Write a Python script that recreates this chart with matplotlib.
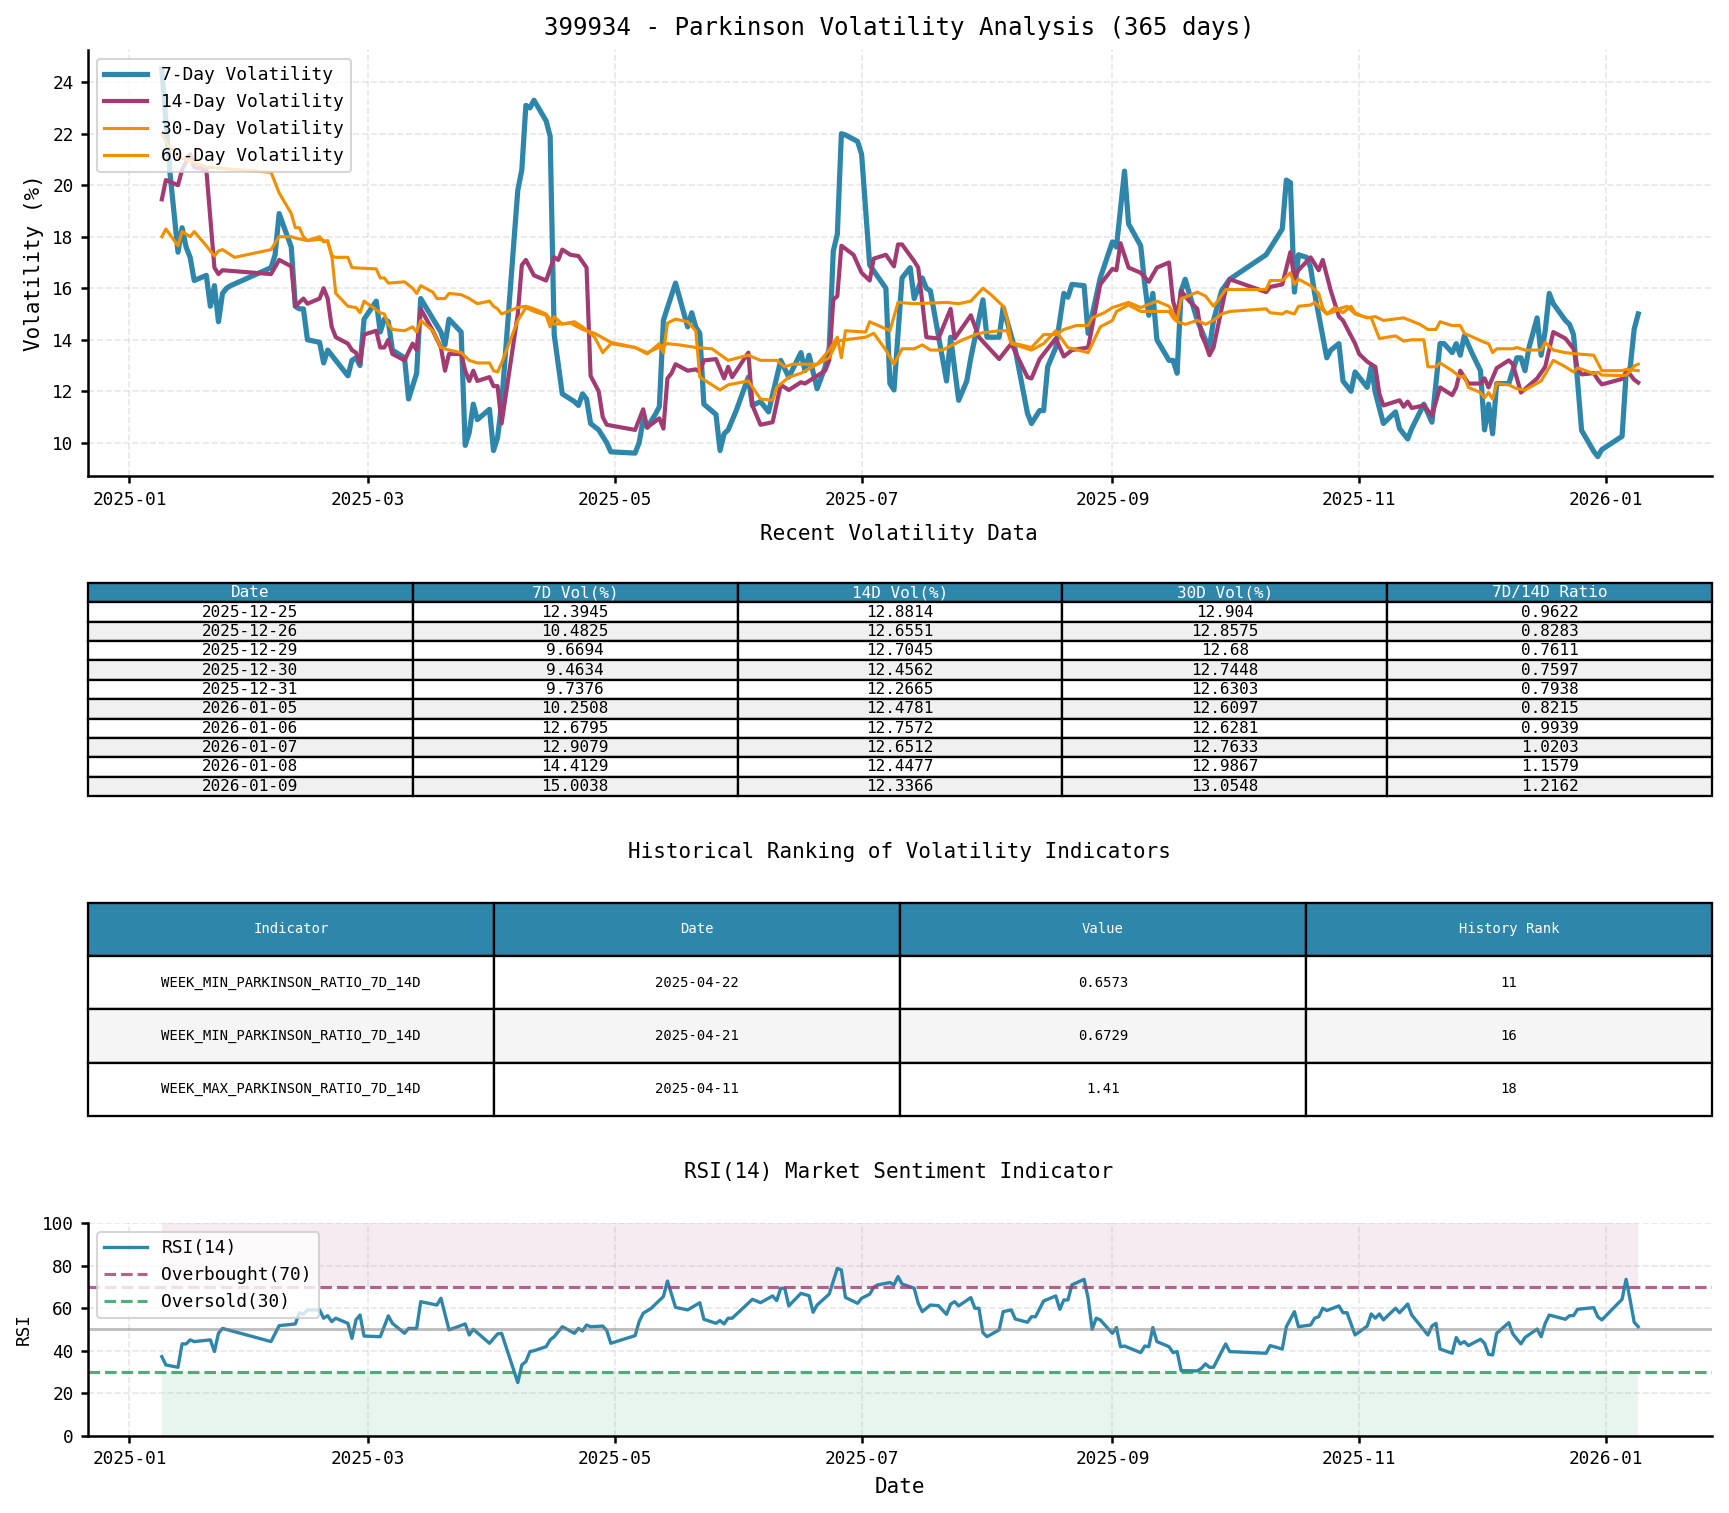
import pandas as pd
import matplotlib
matplotlib.use('Agg')
import matplotlib.pyplot as plt
import matplotlib.dates as mdates
from matplotlib.ticker import MultipleLocator

plt.rcParams['font.family'] = ['DejaVu Sans Mono']
plt.rcParams['axes.unicode_minus'] = False

# --- Datos (dias contados desde 2025-01-01) ---
START = pd.Timestamp('2025-01-01')

vol7_days = [8, 10, 12, 13, 14, 15, 16, 19, 20, 21, 22, 23, 24, 25, 35, 36, 37, 40, 41, 42, 43, 44,
             47, 48, 49, 54, 55, 56, 57, 58, 61, 62, 63, 64, 65, 68, 69, 71, 72, 77, 78, 79, 82, 83,
             84, 85, 86, 89, 90, 91, 92, 96, 97, 98, 99, 100, 103, 104, 105, 107, 110, 111, 112, 113,
             114, 116, 118, 119, 125, 126, 127, 128, 130, 131, 132, 133, 135, 138, 139, 140, 141, 142,
             145, 146, 147, 148, 150, 153, 154, 156, 158, 161, 163, 166, 167, 168, 170, 172, 173, 174,
             175, 176, 177, 180, 181, 183, 187, 188, 189, 191, 193, 194, 196, 197, 198, 202, 203, 205,
             207, 208, 211, 212, 215, 216, 219, 222, 223, 225, 226, 227, 229, 231, 232, 233, 236, 237,
             240, 243, 244, 246, 247, 250, 251, 252, 253, 254, 257, 258, 259, 260, 261, 262, 264, 266,
             267, 268, 270, 272, 281, 285, 286, 287, 288, 289, 291, 292, 293, 296, 297, 299, 300, 302,
             303, 306, 307, 308, 310, 313, 314, 316, 317, 320, 322, 324, 325, 327, 328, 329, 330, 332,
             334, 335, 336, 337, 338, 341, 343, 344, 345, 346, 348, 349, 350, 351, 352, 355, 356, 357,
             358, 359, 362, 363, 364, 369, 370, 371, 372, 373]
vol7_vals = [24.5, 20.5, 17.4, 18.35, 17.6, 17.2, 16.3, 16.5, 15.3, 16.1, 14.7, 15.8, 16.0, 16.1,
             16.8, 17.3, 18.9, 17.6, 15.3, 15.2, 15.2, 14.0, 13.9, 13.1, 13.6, 12.6, 13.2, 13.3, 13.0,
             14.8, 15.5, 14.3, 14.8, 14.7, 13.6, 13.3, 11.7, 12.7, 15.6, 14.3, 13.8, 14.8, 14.3, 9.9,
             10.4, 11.5, 10.9, 11.3, 9.7, 10.2, 11.5, 19.8, 20.6, 23.1, 23.0, 23.3, 22.5, 21.9, 14.2,
             11.9, 11.6, 11.45, 11.9, 11.7, 10.75, 10.5, 10.0, 9.65, 9.6, 10.0, 10.9, 10.6, 11.1, 11.4,
             14.75, 15.25, 16.2, 14.5, 15.05, 14.5, 14.25, 11.5, 11.1, 9.7, 10.35, 10.5, 11.25, 12.55,
             11.45, 11.6, 11.2, 13.2, 12.55, 13.5, 12.8, 13.4, 12.1, 12.95, 13.7, 17.45, 18.1, 22.0,
             21.95, 21.7, 21.2, 16.9, 16.0, 12.3, 12.05, 16.4, 16.8, 15.6, 16.4, 16.0, 15.9, 12.4, 14.1,
             11.65, 12.4, 13.3, 15.55, 14.1, 14.1, 15.25, 13.6, 11.15, 10.75, 11.25, 11.25, 12.95, 13.7,
             15.8, 15.65, 16.15, 16.1, 14.25, 16.4, 17.8, 17.6, 20.55, 18.5, 17.65, 16.15, 14.95, 15.8,
             14.0, 13.2, 13.2, 12.7, 15.9, 16.35, 15.8, 14.75, 14.0, 13.7, 14.75, 15.9, 16.35, 17.3,
             18.3, 20.2, 20.1, 15.85, 17.3, 17.2, 16.8, 15.8, 13.3, 13.6, 13.85, 12.4, 12.0, 12.75,
             12.15, 12.95, 11.95, 10.75, 11.2, 10.55, 10.15, 10.55, 11.5, 10.8, 13.85, 13.85, 13.5,
             13.85, 13.4, 14.15, 13.45, 12.8, 10.5, 11.5, 10.35, 12.3, 12.3, 13.3, 13.3, 12.8, 13.7,
             14.85, 13.4, 14.35, 15.8, 15.4, 14.75, 14.6, 14.2, 12.3945, 10.4825, 9.6694, 9.4634,
             9.7376, 10.2508, 12.6795, 12.9079, 14.4129, 15.0038]

vol14_days = [8, 9, 12, 13, 15, 16, 19, 21, 22, 23, 35, 37, 40, 41, 43, 44, 47, 48, 49, 50, 51, 54,
              55, 56, 57, 58, 61, 62, 63, 64, 65, 68, 70, 71, 72, 75, 77, 78, 79, 82, 83, 84, 85, 86,
              89, 90, 91, 92, 96, 97, 98, 100, 103, 105, 106, 107, 109, 111, 113, 114, 116, 117, 118,
              125, 127, 128, 131, 132, 133, 134, 135, 138, 140, 141, 142, 145, 147, 148, 149, 153, 154,
              156, 159, 161, 163, 166, 167, 168, 170, 172, 173, 174, 175, 176, 179, 181, 183, 184, 187,
              189, 190, 191, 194, 195, 197, 200, 203, 204, 208, 210, 215, 218, 222, 223, 225, 229, 231,
              233, 237, 238, 240, 243, 244, 245, 247, 250, 252, 254, 257, 258, 259, 260, 262, 264, 265,
              266, 267, 268, 271, 272, 281, 282, 285, 287, 288, 289, 292, 294, 295, 297, 299, 300, 303,
              304, 306, 308, 309, 310, 314, 315, 316, 317, 320, 322, 324, 327, 328, 329, 331, 334, 335,
              336, 338, 341, 342, 344, 348, 350, 352, 355, 357, 358, 359, 362, 363, 364, 369, 370, 371,
              372, 373]
vol14_vals = [19.45, 20.2, 20.0, 20.6, 21.2, 20.7, 20.6, 16.8, 16.55, 16.7, 16.55, 17.1, 16.85, 15.3,
              15.6, 15.4, 15.6, 16.0, 15.6, 14.5, 14.1, 13.85, 13.6, 13.5, 13.1, 14.2, 14.35, 13.7,
              13.7, 14.0, 13.45, 13.2, 13.85, 13.6, 15.2, 14.35, 13.7, 12.8, 13.45, 13.45, 12.8, 12.4,
              12.8, 12.4, 12.55, 12.2, 12.2, 10.75, 15.0, 16.9, 17.1, 16.5, 16.3, 17.2, 17.1, 17.5,
              17.3, 17.25, 16.8, 12.6, 12.0, 11.0, 10.7, 10.5, 11.3, 10.6, 10.95, 10.55, 12.5, 12.7,
              13.05, 12.8, 12.85, 12.75, 13.2, 13.25, 12.5, 12.95, 12.55, 13.5, 11.45, 10.7, 10.8,
              12.25, 12.05, 12.35, 12.3, 12.4, 12.6, 12.8, 13.2, 15.55, 15.7, 17.65, 17.3, 16.6, 16.3,
              17.15, 17.3, 16.85, 17.7, 17.7, 17.05, 16.8, 14.1, 14.05, 15.2, 14.05, 14.95, 14.1, 13.25,
              13.85, 12.55, 12.5, 13.25, 14.05, 13.35, 13.6, 13.7, 14.5, 16.15, 16.75, 16.7, 17.75,
              16.8, 16.6, 16.25, 16.8, 17.0, 15.5, 14.95, 15.9, 15.5, 15.2, 14.2, 13.85, 13.4, 13.7,
              15.95, 16.35, 15.85, 16.05, 16.15, 17.4, 16.4, 16.7, 17.2, 16.7, 17.1, 15.9, 14.9, 14.75,
              13.85, 13.45, 13.15, 12.95, 11.9, 11.45, 11.65, 11.4, 11.6, 11.35, 11.45, 11.05, 12.15,
              11.85, 12.15, 12.8, 12.3, 12.3, 12.5, 12.15, 12.9, 13.2, 13.05, 11.95, 12.5, 12.95, 14.3,
              14.05, 13.65, 12.8814, 12.6551, 12.7045, 12.4562, 12.2665, 12.4781, 12.7572, 12.6512,
              12.4477, 12.3366]

vol30_days = [8, 9, 12, 13, 15, 16, 19, 21, 22, 23, 26, 35, 37, 40, 41, 44, 47, 48, 49, 50, 51, 54,
              56, 57, 58, 62, 63, 64, 65, 68, 70, 71, 72, 75, 77, 79, 82, 84, 86, 89, 90, 91, 92, 96,
              98, 100, 103, 104, 105, 107, 110, 112, 115, 117, 119, 125, 128, 131, 132, 133, 135, 138,
              140, 141, 146, 148, 153, 156, 159, 160, 163, 166, 170, 173, 175, 176, 177, 182, 183, 188,
              190, 194, 202, 205, 208, 211, 213, 216, 217, 218, 219, 223, 226, 229, 231, 234, 237, 238,
              241, 243, 247, 250, 254, 257, 258, 259, 260, 261, 264, 266, 268, 269, 271, 281, 282, 285,
              287, 288, 289, 292, 294, 295, 296, 298, 300, 302, 303, 305, 307, 309, 313, 315, 317, 320,
              321, 323, 324, 327, 329, 330, 331, 334, 335, 336, 337, 338, 341, 343, 345, 349, 352, 355,
              357, 358, 359, 362, 363, 364, 369, 370, 371, 372, 373]
vol30_vals = [18.0, 18.3, 17.65, 18.2, 18.0, 18.2, 17.65, 17.25, 17.45, 17.5, 17.2, 17.5, 18.0, 18.0,
              17.95, 17.85, 18.0, 17.8, 17.85, 17.3, 15.8, 15.3, 15.25, 15.05, 15.5, 15.05, 15.0, 14.6,
              14.4, 14.35, 14.5, 14.3, 14.75, 14.35, 13.7, 13.6, 13.5, 13.2, 13.1, 13.1, 12.8, 12.75,
              13.1, 14.75, 15.25, 15.1, 14.95, 14.5, 14.9, 14.6, 14.7, 14.5, 14.1, 13.5, 13.85, 13.7,
              13.45, 13.85, 13.5, 14.65, 14.8, 14.7, 14.35, 12.55, 12.05, 12.25, 12.4, 11.7, 11.65,
              12.15, 12.55, 12.7, 13.05, 13.6, 14.1, 13.3, 14.35, 14.3, 14.7, 14.35, 15.45, 15.4, 15.45,
              15.4, 15.5, 16.0, 15.75, 15.3, 14.8, 13.9, 13.85, 13.7, 14.2, 14.2, 14.4, 14.55, 14.55,
              14.85, 15.05, 15.25, 15.45, 15.25, 15.5, 15.3, 15.05, 14.75, 15.6, 15.65, 15.85, 15.7,
              15.3, 15.5, 15.95, 15.95, 16.3, 16.3, 16.6, 16.15, 16.35, 16.1, 15.8, 15.25, 15.0, 15.25,
              15.05, 15.3, 15.05, 14.9, 14.85, 14.05, 14.15, 13.95, 14.0, 14.0, 12.95, 12.95, 13.1, 12.8,
              12.55, 12.6, 12.15, 11.95, 11.75, 11.95, 11.7, 12.3, 12.25, 12.1, 12.05, 12.4, 13.2,
              12.95, 12.75, 12.904, 12.8575, 12.68, 12.7448, 12.6303, 12.6097, 12.6281, 12.7633,
              12.9867, 13.0548]

vol60_days = [8, 9, 12, 15, 19, 35, 36, 37, 40, 41, 42, 43, 44, 47, 49, 50, 51, 54, 55, 61, 62, 63,
              64, 68, 70, 71, 72, 75, 76, 78, 79, 82, 84, 86, 89, 90, 91, 92, 96, 98, 100, 103, 105,
              109, 112, 115, 119, 125, 128, 133, 136, 140, 144, 148, 153, 156, 160, 162, 164, 170, 173,
              175, 177, 182, 184, 187, 189, 191, 194, 196, 198, 201, 206, 210, 215, 217, 218, 223, 226,
              229, 232, 237, 240, 243, 244, 247, 250, 252, 254, 257, 258, 259, 261, 264, 266, 268, 270,
              272, 281, 282, 285, 286, 288, 289, 292, 293, 296, 298, 299, 301, 303, 306, 308, 310, 315,
              319, 321, 323, 324, 327, 329, 330, 335, 336, 337, 338, 342, 343, 345, 349, 350, 352, 355,
              358, 362, 364, 369, 370, 373]
vol60_vals = [22.0, 21.7, 21.1, 20.95, 20.7, 20.5, 20.1, 19.7, 18.9, 18.35, 18.35, 18.0, 17.85, 17.9,
              17.8, 17.25, 17.2, 17.2, 16.8, 16.75, 16.4, 16.4, 16.2, 16.25, 16.0, 15.8, 16.1, 15.85,
              15.6, 15.6, 15.8, 15.75, 15.6, 15.4, 15.5, 15.3, 15.2, 15.0, 15.25, 15.3, 15.2, 15.0,
              14.6, 14.65, 14.4, 14.25, 13.9, 13.7, 13.5, 13.85, 13.8, 13.7, 13.65, 13.2, 13.4, 13.2,
              13.2, 12.95, 13.05, 13.05, 13.3, 13.95, 14.0, 14.1, 14.25, 13.6, 13.05, 13.65, 13.65,
              13.8, 13.6, 13.6, 14.0, 14.25, 14.35, 14.35, 13.85, 13.6, 13.85, 14.35, 13.7, 13.5, 14.5,
              14.75, 15.1, 15.35, 15.1, 15.1, 15.1, 15.1, 14.85, 14.7, 14.6, 14.75, 14.6, 14.75, 15.0,
              15.1, 15.2, 15.05, 15.0, 15.1, 15.0, 15.3, 15.35, 15.45, 15.0, 15.1, 15.2, 15.3, 15.0,
              14.85, 14.9, 14.75, 14.85, 14.6, 14.4, 14.4, 14.7, 14.55, 14.55, 14.25, 13.9, 13.85, 13.5,
              13.65, 13.65, 13.7, 13.6, 13.6, 13.9, 13.6, 13.5, 13.45, 13.4, 12.8, 12.8, 12.85, 12.8]

rsi_days = [8, 9, 12, 13, 14, 15, 16, 20, 21, 22, 23, 35, 37, 41, 42, 43, 44, 47, 48, 49, 50, 51, 54,
            55, 56, 57, 58, 62, 64, 65, 68, 69, 71, 72, 75, 76, 77, 79, 83, 84, 85, 89, 91, 92, 96, 97,
            98, 99, 100, 103, 104, 105, 107, 110, 111, 112, 113, 114, 117, 118, 119, 125, 126, 127,
            129, 132, 133, 135, 138, 141, 142, 145, 146, 147, 148, 149, 154, 156, 159, 160, 161, 162,
            163, 166, 168, 169, 170, 173, 175, 176, 177, 180, 181, 183, 184, 185, 188, 189, 190, 191,
            194, 195, 196, 198, 200, 202, 203, 204, 205, 208, 209, 210, 211, 212, 215, 216, 218, 219,
            222, 223, 224, 226, 229, 230, 231, 232, 233, 236, 237, 238, 239, 240, 243, 244, 245, 246,
            250, 251, 252, 253, 254, 257, 258, 259, 260, 264, 265, 266, 267, 268, 271, 272, 281, 282,
            285, 286, 288, 289, 292, 293, 294, 295, 296, 299, 300, 301, 303, 306, 307, 308, 309, 310,
            313, 314, 316, 317, 321, 322, 323, 324, 327, 328, 329, 330, 331, 334, 335, 336, 337, 338,
            341, 342, 344, 345, 348, 349, 350, 351, 355, 356, 357, 358, 362, 363, 364, 369, 370, 371,
            372, 373]
rsi_vals = [37.2, 33.3, 32.2, 43.2, 43.2, 45.1, 44.3, 45.1, 39.6, 48.2, 50.5, 44.3, 51.8, 52.6, 57.9,
            57.1, 59.2, 59.2, 55.3, 56.5, 53.7, 55.3, 52.9, 45.8, 54.5, 56.8, 46.9, 46.6, 56.4, 52.9,
            48.2, 50.5, 50.5, 63.1, 61.9, 61.5, 64.7, 49.8, 52.6, 47.4, 50.1, 43.5, 47.9, 48.2, 25.0,
            33.3, 34.9, 39.6, 40.0, 41.9, 45.1, 46.6, 51.3, 48.2, 50.5, 49.3, 52.1, 51.3, 51.6, 49.5,
            43.5, 47.1, 53.7, 57.6, 60.0, 65.5, 72.8, 60.4, 59.2, 62.6, 54.8, 52.9, 54.2, 52.6, 55.3,
            55.3, 64.2, 62.6, 65.8, 63.6, 69.4, 69.4, 61.1, 67.0, 65.9, 58.1, 61.5, 66.7, 78.8, 78.0,
            65.1, 62.3, 64.7, 66.6, 69.9, 71.0, 72.1, 71.0, 74.9, 71.4, 69.4, 62.3, 58.4, 61.5, 61.2,
            57.1, 61.9, 63.1, 61.1, 65.0, 60.0, 60.0, 48.5, 46.6, 49.8, 58.4, 59.2, 54.9, 53.4, 56.0,
            56.0, 63.4, 65.8, 59.5, 63.9, 63.9, 71.0, 73.6, 64.7, 50.1, 55.3, 54.5, 48.2, 50.9, 41.9,
            42.2, 39.1, 42.2, 41.9, 50.9, 44.3, 41.9, 39.1, 39.6, 30.6, 30.5, 31.7, 33.8, 32.2, 32.2,
            43.2, 39.6, 38.8, 42.4, 40.8, 51.3, 58.4, 51.3, 52.1, 55.3, 56.0, 60.0, 58.9, 61.1, 57.9,
            57.9, 47.4, 51.6, 57.3, 55.3, 57.3, 54.5, 60.0, 57.9, 62.0, 56.8, 47.4, 51.6, 52.9, 40.8,
            38.8, 46.2, 43.2, 44.3, 42.4, 45.4, 43.5, 38.3, 38.0, 48.2, 53.2, 47.9, 43.2, 46.2, 50.2,
            46.6, 52.9, 56.8, 54.8, 56.5, 56.5, 59.5, 60.3, 56.0, 54.5, 64.2, 73.6, 63.9, 53.4, 51.3]

# Tabla de datos recientes
recent_cols = ['Date', '7D Vol(%)', '14D Vol(%)', '30D Vol(%)', '7D/14D Ratio']
recent_dates = ['2025-12-25', '2025-12-26', '2025-12-29', '2025-12-30', '2025-12-31',
                '2026-01-05', '2026-01-06', '2026-01-07', '2026-01-08', '2026-01-09']
recent_7d = ['12.3945', '10.4825', '9.6694', '9.4634', '9.7376',
             '10.2508', '12.6795', '12.9079', '14.4129', '15.0038']
recent_14d = ['12.8814', '12.6551', '12.7045', '12.4562', '12.2665',
              '12.4781', '12.7572', '12.6512', '12.4477', '12.3366']
recent_30d = ['12.904', '12.8575', '12.68', '12.7448', '12.6303',
              '12.6097', '12.6281', '12.7633', '12.9867', '13.0548']
recent_ratio = ['0.9622', '0.8283', '0.7611', '0.7597', '0.7938',
                '0.8215', '0.9939', '1.0203', '1.1579', '1.2162']

# Tabla de ranking historico
rank_cols = ['Indicator', 'Date', 'Value', 'History Rank']
rank_names = ['WEEK_MIN_PARKINSON_RATIO_7D_14D', 'WEEK_MIN_PARKINSON_RATIO_7D_14D',
              'WEEK_MAX_PARKINSON_RATIO_7D_14D']
rank_dates = ['2025-04-22', '2025-04-21', '2025-04-11']
rank_values = ['0.6573', '0.6729', '1.41']
rank_pos = ['11', '16', '18']

BLUE = '#2E86AB'
PURPLE = '#A23B72'
ORANGE = '#F18F01'
GREEN = '#27995A'

LEFT, WIDTH = 0.0509, 0.9393


def to_dates(days):
    """Convierte dias desde START a fechas."""
    return START + pd.to_timedelta(days, unit='D')


def style_date_axis(ax):
    ax.xaxis.set_major_locator(mdates.MonthLocator(bymonth=[1, 3, 5, 7, 9, 11]))
    ax.xaxis.set_major_formatter(mdates.DateFormatter('%Y-%m'))
    ax.grid(True, linestyle='--', alpha=0.3)
    ax.tick_params(labelsize=8.5, width=1.2)
    for side in ['top', 'right']:
        ax.spines[side].set_visible(False)
    for side in ['left', 'bottom']:
        ax.spines[side].set_linewidth(1.2)


def graficar_volatilidad(fig):
    ax = fig.add_axes([LEFT, 0.6854, WIDTH, 0.2816])
    ax.plot(to_dates(vol7_days), vol7_vals, color=BLUE, lw=2.5, label='7-Day Volatility')
    ax.plot(to_dates(vol14_days), vol14_vals, color=PURPLE, lw=2.0, label='14-Day Volatility')
    ax.plot(to_dates(vol30_days), vol30_vals, color=ORANGE, lw=1.5, label='30-Day Volatility')
    ax.plot(to_dates(vol60_days), vol60_vals, color=ORANGE, lw=1.5, label='60-Day Volatility')
    ax.yaxis.set_major_locator(MultipleLocator(2))
    ax.set_ylabel('Volatility (%)', fontsize=10)
    style_date_axis(ax)
    ax.legend(loc='upper left', fontsize=8.6, handlelength=2.4)
    return ax


def dibujar_tabla(fig, rect, cols, rows, fontsize, stripe):
    ax = fig.add_axes(rect)
    ax.axis('off')
    tabla = ax.table(cellText=rows, colLabels=cols, cellLoc='center', bbox=[0, 0, 1, 1])
    tabla.auto_set_font_size(False)
    tabla.set_fontsize(fontsize)
    for (r, c), cell in tabla.get_celld().items():
        cell.set_linewidth(1.1)
        if r == 0:
            cell.set_facecolor(BLUE)
            cell.get_text().set_color('white')
        elif r % 2 == 0:
            cell.set_facecolor(stripe)
        else:
            cell.set_facecolor('white')
    return ax


def graficar_rsi(fig):
    ax = fig.add_axes([LEFT, 0.0511, WIDTH, 0.1404])
    fechas = to_dates(rsi_days)
    ax.fill_between(fechas, 70, 100, color=PURPLE, alpha=0.1, lw=0)
    ax.fill_between(fechas, 0, 30, color=GREEN, alpha=0.1, lw=0)
    ax.plot(fechas, rsi_vals, color=BLUE, lw=1.6, label='RSI(14)')
    ax.axhline(70, color=PURPLE, linestyle='--', lw=1.5, alpha=0.8, label='Overbought(70)')
    ax.axhline(30, color=GREEN, linestyle='--', lw=1.5, alpha=0.8, label='Oversold(30)')
    ax.axhline(50, color='gray', lw=1.4, alpha=0.5)
    ax.set_ylim(0, 100)
    ax.yaxis.set_major_locator(MultipleLocator(20))
    ax.set_ylabel('RSI', fontsize=8.5)
    ax.set_xlabel('Date', fontsize=10)
    style_date_axis(ax)
    ax.legend(loc='upper left', fontsize=8.6, handlelength=2.4)
    return ax


def main():
    fig = plt.figure(figsize=(1729 / 150, 1513 / 150), dpi=150)

    fig.text(0.52, 0.9818, '399934 - Parkinson Volatility Analysis (365 days)',
             ha='center', va='center', fontsize=11.6)
    graficar_volatilidad(fig)

    fig.text(0.52, 0.6473, 'Recent Volatility Data', ha='center', va='center', fontsize=10)
    filas = [list(r) for r in zip(recent_dates, recent_7d, recent_14d, recent_30d, recent_ratio)]
    dibujar_tabla(fig, [LEFT, 0.4739, WIDTH, 0.1408], recent_cols, filas, 7.7, '#F0F0F0')

    fig.text(0.52, 0.4369, 'Historical Ranking of Volatility Indicators',
             ha='center', va='center', fontsize=10)
    filas = [list(r) for r in zip(rank_names, rank_dates, rank_values, rank_pos)]
    dibujar_tabla(fig, [LEFT, 0.2624, WIDTH, 0.1410], rank_cols, filas, 6.7, '#F5F5F5')

    fig.text(0.52, 0.2254, 'RSI(14) Market Sentiment Indicator',
             ha='center', va='center', fontsize=10)
    graficar_rsi(fig)

    fig.savefig('out.png', dpi=150)


if __name__ == "__main__":
    main()
